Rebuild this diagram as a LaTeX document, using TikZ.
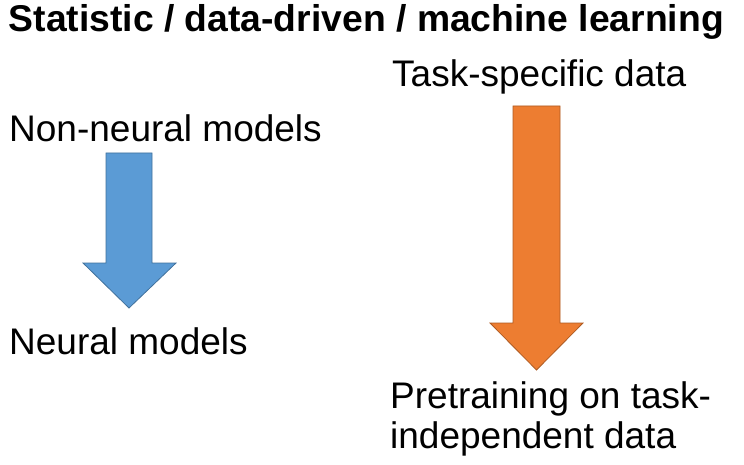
\documentclass[tikz,border=0pt]{standalone}
\usepackage{fontspec}
\setmainfont{Liberation Sans}
\definecolor{arrblue}{HTML}{5B9BD5}
\definecolor{arrblueline}{HTML}{41719C}
\definecolor{arrorange}{HTML}{ED7D31}
\definecolor{arrorangeline}{HTML}{AE5A21}
\begin{document}
\begin{tikzpicture}[x=1pt,y=-1pt,
  lbl/.style={anchor=base west,inner sep=0pt,font=\fontsize{37}{40}\selectfont,align=left},
  ttl/.style={lbl,font=\fontsize{37.3}{40}\selectfont\bfseries},
  bluearrow/.style={fill=arrblue,draw=arrblueline,line width=0.8pt},
  orangearrow/.style={fill=arrorange,draw=arrorangeline,line width=0.8pt}]
\useasboundingbox (0,0) rectangle (744,465);
\fill[white] (0,0) rectangle (744,465);
\node[ttl] (title) at (8.5,32) {Statistic / data-driven / machine learning};
\node[lbl] (nonneural) at (9,142) {Non-neural models};
\node[lbl] (neural) at (9,354) {Neural models};
\node[lbl] (taskspec) at (392,87) {Task-specific data};
\node[lbl] (pretrain) at (390,448) {Pretraining on task-\\independent data};
\draw[bluearrow] (106,153) -- (152,153) -- (152,263) -- (176,263) -- (129,308) -- (83,263) -- (106,263) -- cycle;
\draw[orangearrow] (513,106) -- (560,106) -- (560,323) -- (583,323) -- (536.5,370) -- (490,323) -- (513,323) -- cycle;
\end{tikzpicture}
\end{document}
